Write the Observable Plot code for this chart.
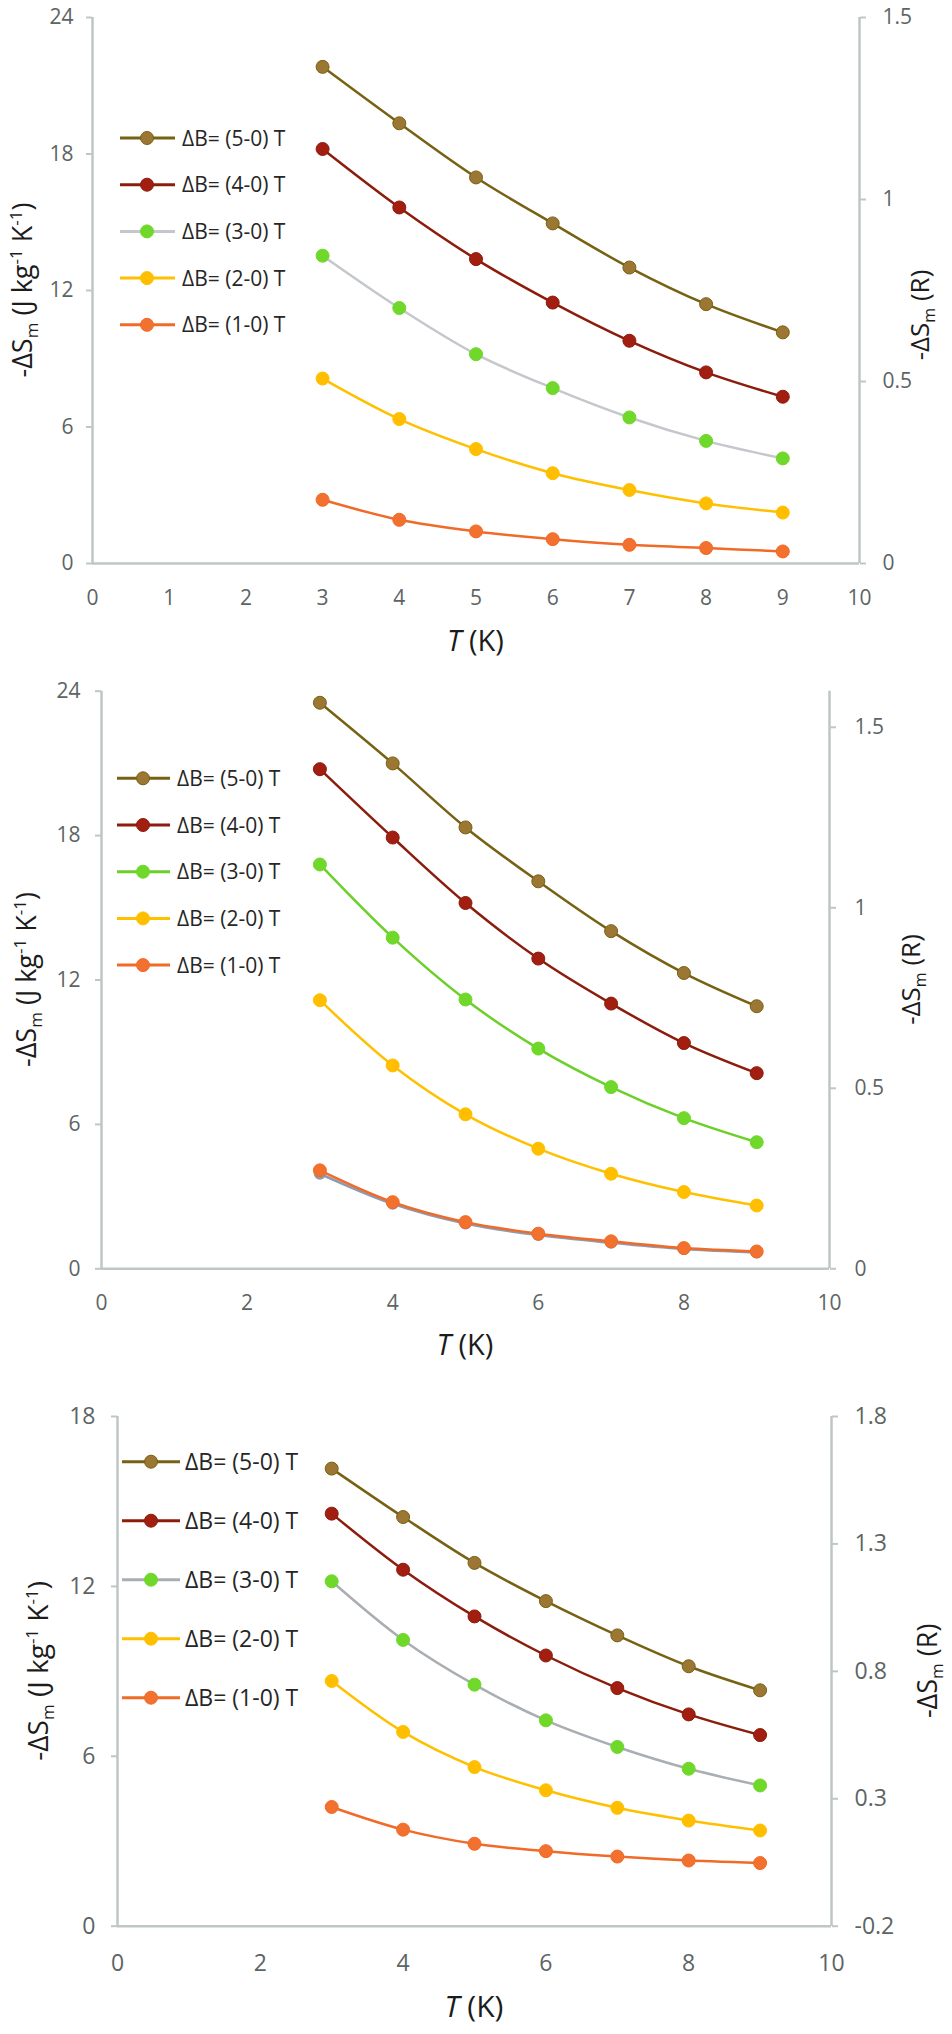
<!DOCTYPE html>
<html><head><meta charset="utf-8">
<script src="https://cdn.jsdelivr.net/npm/d3@7"></script>
<script src="https://cdn.jsdelivr.net/npm/@observablehq/plot@0.6"></script>
<style>
body{margin:0;background:#fff;width:952px;}
#charts svg{display:block;}
</style></head><body><div id="charts"></div>
<script>
// ---------- data ----------
const T = [3, 4, 5, 6, 7, 8, 9];
const seriesNames = ["ΔB= (5-0) T", "ΔB= (4-0) T", "ΔB= (3-0) T", "ΔB= (2-0) T", "ΔB= (1-0) T"];

// panel 1
const a5 = [21.83, 19.35, 16.97, 14.95, 13.01, 11.40, 10.16];
const a4 = [18.22, 15.65, 13.38, 11.47, 9.79, 8.40, 7.33];
const a3 = [13.53, 11.23, 9.20, 7.71, 6.42, 5.39, 4.62];
const a2 = [8.13, 6.35, 5.03, 3.97, 3.23, 2.64, 2.24];
const a1 = [2.80, 1.92, 1.41, 1.07, 0.82, 0.68, 0.53];

// panel 2
const b5 = [23.52, 21.00, 18.34, 16.10, 14.03, 12.29, 10.91];
const b4 = [20.76, 17.92, 15.20, 12.89, 11.02, 9.38, 8.13];
const b3 = [16.80, 13.76, 11.19, 9.15, 7.55, 6.26, 5.26];
const b2 = [11.16, 8.45, 6.42, 4.99, 3.95, 3.19, 2.63];
const b1 = [4.09, 2.77, 1.94, 1.46, 1.14, 0.86, 0.72];
const bHidden = [3.95, 2.70, 1.88, 1.40, 1.08, 0.82, 0.68];

// panel 3
const c5 = [16.16, 14.45, 12.83, 11.48, 10.27, 9.18, 8.33];
const c4 = [14.57, 12.59, 10.94, 9.56, 8.41, 7.48, 6.75];
const c3 = [12.18, 10.11, 8.53, 7.27, 6.33, 5.56, 4.97];
const c2 = [8.66, 6.86, 5.62, 4.80, 4.18, 3.73, 3.38];
const c1 = [4.21, 3.41, 2.91, 2.65, 2.46, 2.32, 2.23];

// ticks
const xTicksA = [0, 1, 2, 3, 4, 5, 6, 7, 8, 9, 10];
const xTicksB = [0, 2, 4, 6, 8, 10];
const yTicks24 = [0, 6, 12, 18, 24];
const yTicks18 = [0, 6, 12, 18];
const rTicksA = [0, 0.5, 1, 1.5];
const rTicksB = [0, 0.5, 1, 1.5];
const rTicksC = [-0.2, 0.3, 0.8, 1.3, 1.8];

// ---------- styles ----------
const axisGray = "#bec6c6";
const tickText = "#5d6464";
const markerColors = ["#9c7633", "#a11e10", "#6fd82a", "#ffbf00", "#f3712f"];
const lineColorsBase = ["#776214", "#8c1c0c", null, "#ffc000", "#f06a28"];

const panels = [
  {series: [a5, a4, a3, a2, a1], line3: "#c4c7cb", hidden: null,
   height: 668, mt: 17, mb: 105, ml: 92, mr: 93, yMax: 24, yTicks: yTicks24, xTicks: xTicksA,
   rTicks: rTicksA, rMin: 0, rMax: 1.5, font: 21, lpadL: 13, lpadR: 17, xpad: 27,
   legend: {x1: 120, x2: 175, xm: 147, xt: 182, y0: 138, dy: 46.7, font: 21},
   ltitle: {x: 32, font: 27}, rtitle: {x: 929, dy: 25, font: 26}, xtitle: {dy: 88, font: 29}},
  {series: [b5, b4, b3, b2, b1], line3: "#6ccf2a", hidden: bHidden,
   height: 700, mt: 22.7, mb: 99.7, ml: 101, mr: 123, yMax: 24, yTicks: yTicks24, xTicks: xTicksB,
   rTicks: rTicksB, rMin: 0, rMax: 1.6, font: 21, lpadL: 15, lpadR: 19, xpad: 26,
   legend: {x1: 117, x2: 170, xm: 143, xt: 177, y0: 110.3, dy: 46.7, font: 21},
   ltitle: {x: 36, font: 27}, rtitle: {x: 920, dy: 0, font: 26}, xtitle: {dy: 87, font: 29}},
  {series: [c5, c4, c3, c2, c1], line3: "#a9aeb3", hidden: null,
   height: 666, mt: 48, mb: 108.3, ml: 117, mr: 121, yMax: 18, yTicks: yTicks18, xTicks: xTicksB,
   rTicks: rTicksC, rMin: -0.2, rMax: 1.8, font: 23, lpadL: 16, lpadR: 17, xpad: 28,
   legend: {x1: 122, x2: 180, xm: 151, xt: 185, y0: 93.7, dy: 59, font: 23},
   ltitle: {x: 48, font: 28}, rtitle: {x: 937, dy: 0, font: 27}, xtitle: {dy: 91, font: 30}}
];

const root = document.getElementById("charts");

panels.forEach(p => {
  const k = p.yMax / (p.rMax - p.rMin);
  const lineColors = lineColorsBase.map((c, i) => i === 2 ? p.line3 : c);
  const marks = [
    Plot.ruleX([0], {stroke: axisGray, strokeWidth: 2.5}),
    Plot.ruleX([10], {stroke: axisGray, strokeWidth: 2.5}),
    Plot.ruleY([0], {stroke: axisGray, strokeWidth: 2.5}),
    Plot.axisY(p.yTicks, {anchor: "left", tickSize: 6, tickPadding: p.lpadL, stroke: axisGray, strokeWidth: 2,
      fill: tickText, fontSize: p.font, label: null}),
    Plot.axisY(p.rTicks.map(r => (r - p.rMin) * k), {anchor: "right", tickSize: 6, tickPadding: p.lpadR,
      stroke: axisGray, strokeWidth: 2, fill: tickText, fontSize: p.font, label: null,
      tickFormat: d => String(+((d / k + p.rMin).toFixed(2)))}),
    Plot.axisX(p.xTicks, {tickSize: 0, tickPadding: p.xpad, fill: tickText, fontSize: p.font, label: null})
  ];
  if (p.hidden) {
    const hd = T.map((t, j) => ({T: t, v: p.hidden[j]}));
    marks.push(Plot.line(hd, {x: "T", y: "v", stroke: "#8d9bb0", strokeWidth: 2.5, curve: "catmull-rom"}));
    marks.push(Plot.dot(hd, {x: "T", y: "v", r: 6, fill: "#8d9bb0"}));
  }
  p.series.forEach((vals, i) => {
    const d = T.map((t, j) => ({T: t, v: vals[j]}));
    marks.push(Plot.line(d, {x: "T", y: "v", stroke: lineColors[i], strokeWidth: 2.5, curve: "catmull-rom"}));
    marks.push(Plot.dot(d, {x: "T", y: "v", r: 6.5, fill: markerColors[i], stroke: i === 2 ? markerColors[i] : lineColors[i], strokeWidth: 1}));
  });

  const chart = Plot.plot({
    width: 952, height: p.height,
    marginTop: p.mt, marginBottom: p.mb, marginLeft: p.ml, marginRight: p.mr,
    x: {domain: [0, 10], label: null},
    y: {domain: [0, p.yMax], label: null},
    style: {fontFamily: "'Open Sans', sans-serif", background: "#fff"},
    marks
  });
  root.appendChild(chart);

  const svg = d3.select(chart);
  const fb = p.height - p.mb;             // frame bottom
  const fc = (p.mt + fb) / 2;             // frame centre
  const xc = (p.ml + (952 - p.mr)) / 2;

  // legend
  const lg = svg.append("g").attr("font-family", "'Open Sans', sans-serif").attr("text-anchor", "start");
  seriesNames.forEach((name, i) => {
    const y = p.legend.y0 + i * p.legend.dy;
    lg.append("line").attr("x1", p.legend.x1).attr("x2", p.legend.x2).attr("y1", y).attr("y2", y)
      .attr("stroke", lineColors[i]).attr("stroke-width", 3);
    lg.append("circle").attr("cx", p.legend.xm).attr("cy", y).attr("r", 6.5)
      .attr("fill", markerColors[i]).attr("stroke", i === 2 ? markerColors[i] : lineColors[i]);
    lg.append("text").attr("x", p.legend.xt).attr("y", y).attr("dy", "0.36em")
      .attr("text-anchor", "start")
      .attr("font-size", p.legend.font).attr("fill", "#262626").text(name);
  });

  // left axis title
  const lt = svg.append("text")
    .attr("transform", `translate(${p.ltitle.x},${fc}) rotate(-90)`)
    .attr("text-anchor", "middle").attr("font-size", p.ltitle.font).attr("fill", "#1c1c1c")
    .attr("font-family", "'Open Sans', sans-serif");
  const sub = Math.round(p.ltitle.font * 0.62);
  lt.append("tspan").text("-ΔS");
  lt.append("tspan").attr("font-size", sub).attr("dy", 6).text("m");
  lt.append("tspan").attr("dy", -6).text(" (J kg");
  lt.append("tspan").attr("font-size", sub).attr("dy", -10).text("-1");
  lt.append("tspan").attr("dy", 10).text(" K");
  lt.append("tspan").attr("font-size", sub).attr("dy", -10).text("-1");
  lt.append("tspan").attr("dy", 10).text(")");

  // right axis title
  const rt = svg.append("text")
    .attr("transform", `translate(${p.rtitle.x},${fc + p.rtitle.dy}) rotate(-90)`)
    .attr("text-anchor", "middle").attr("font-size", p.rtitle.font).attr("fill", "#1c1c1c")
    .attr("font-family", "'Open Sans', sans-serif");
  rt.append("tspan").text("-ΔS");
  rt.append("tspan").attr("font-size", Math.round(p.rtitle.font * 0.62)).attr("dy", 6).text("m");
  rt.append("tspan").attr("dy", -6).text(" (R)");

  // x axis title
  const xt = svg.append("text")
    .attr("x", xc).attr("y", fb + p.xtitle.dy)
    .attr("text-anchor", "middle").attr("font-size", p.xtitle.font).attr("fill", "#1c1c1c")
    .attr("font-family", "'Open Sans', sans-serif");
  xt.append("tspan").attr("font-style", "italic").text("T");
  xt.append("tspan").text(" (K)");
});
</script>
</body></html>
